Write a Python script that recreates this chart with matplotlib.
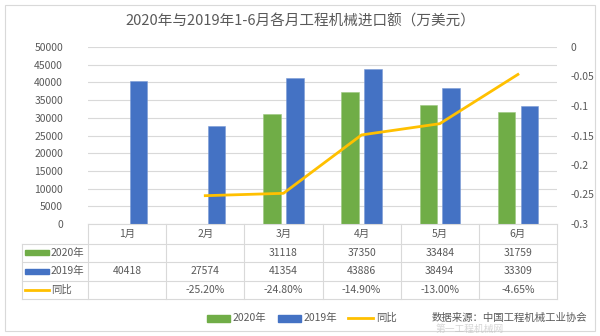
import numpy as np
import matplotlib
matplotlib.use('Agg')
import matplotlib.pyplot as plt

plt.rcParams['font.family'] = ['Noto Sans CJK SC', 'DejaVu Sans']

months = ['1月', '2月', '3月', '4月', '5月', '6月']
v2020 = [None, None, 31118, 37350, 33484, 31759]
v2019 = [40418, 27574, 41354, 43886, 38494, 33309]
yoy = [None, -0.252, -0.248, -0.149, -0.130, -0.0465]
yoy_labels = ['', '-25.20%', '-24.80%', '-14.90%', '-13.00%', '-4.65%']

green = '#70AD47'
blue = '#4472C4'
yellow = '#FFC000'
txt = '#595959'
grid = '#D9D9D9'

fig = plt.figure(figsize=(6, 3.36), dpi=100)
W, H = 600, 336

def fx(px):
    return px / W

def fy(py):
    return 1 - py / H

def fline(xs, ys, **kw):
    fig.lines.append(plt.Line2D([fx(v) for v in xs], [fy(v) for v in ys],
                                transform=fig.transFigure, figure=fig, **kw))

ax = fig.add_axes([fx(88), fy(224), fx(557) - fx(88), fy(47) - fy(224)])
x = np.arange(len(months))
bw = 0.225
off = 0.146
h20 = [v if v is not None else 0 for v in v2020]
ax.bar(x - off, h20, bw, color=green, edgecolor='#9cc77f', linewidth=0.4, zorder=3)
ax.bar(x + off, v2019, bw, color=blue, edgecolor='#7a9ad6', linewidth=0.4, zorder=3)
ax.set_xlim(-0.5, 5.5)
ax.set_ylim(0, 50000)
ax.set_yticks(np.arange(0, 50001, 5000))
ax.yaxis.grid(True, color=grid, linewidth=0.8, zorder=0)
ax.set_axisbelow(True)
ax.set_xticks([])
ax.set_frame_on(False)
ax.tick_params(axis='y', length=0, labelsize=7.5, labelcolor=txt, pad=18)

ax2 = ax.twinx()
lx = [i for i, v in enumerate(yoy) if v is not None]
ly = [v for v in yoy if v is not None]
ax2.plot(lx, ly, color=yellow, linewidth=2, zorder=4)
ax2.set_ylim(-0.3, 0)
ax2.set_yticks([0, -0.05, -0.1, -0.15, -0.2, -0.25, -0.3])
ax2.set_yticklabels(['0', '-0.05', '-0.1', '-0.15', '-0.2', '-0.25', '-0.3'])
ax2.tick_params(axis='y', length=0, labelsize=7.5, labelcolor=txt, pad=10)
ax2.set_frame_on(False)

# data table below the plot (pixel layout)
col_w = (557 - 88) / 6
rows = [224, 243.5, 262, 280.5, 299]
lk = dict(color=grid, linewidth=0.8)
fline([88, 557], [224, 224], **lk)
for r in rows[1:]:
    fline([22, 557], [r, r], **lk)
fline([22, 22], [rows[1], 299], **lk)
for i in range(7):
    cx = 88 + i * col_w
    fline([cx, cx], [224, 299], **lk)

fs = 7.5
mid = [(rows[k] + rows[k + 1]) / 2 for k in range(4)]
for i, m in enumerate(months):
    cx = 88 + (i + 0.5) * col_w
    fig.text(fx(cx), fy(mid[0]), m, ha='center', va='center', fontsize=fs, color=txt)
    if v2020[i] is not None:
        fig.text(fx(cx), fy(mid[1]), str(v2020[i]), ha='center', va='center', fontsize=fs, color=txt)
    fig.text(fx(cx), fy(mid[2]), str(v2019[i]), ha='center', va='center', fontsize=fs, color=txt)
    fig.text(fx(cx), fy(mid[3]), yoy_labels[i], ha='center', va='center', fontsize=fs, color=txt)

fig.patches.append(plt.Rectangle((fx(25), fy(mid[1] + 2.5)), fx(24), 5 / H, color=green,
                                 transform=fig.transFigure, figure=fig))
fig.patches.append(plt.Rectangle((fx(25), fy(mid[2] + 2.5)), fx(24), 5 / H, color=blue,
                                 transform=fig.transFigure, figure=fig))
fline([25, 49], [mid[3], mid[3]], color=yellow, linewidth=2)
fig.text(fx(51), fy(mid[1]), '2020年', va='center', fontsize=fs, color=txt)
fig.text(fx(51), fy(mid[2]), '2019年', va='center', fontsize=fs, color=txt)
fig.text(fx(51), fy(mid[3]), '同比', va='center', fontsize=fs, color=txt)

# legend at the bottom
ly_ = fy(318)
fig.patches.append(plt.Rectangle((fx(207), ly_ - 3.5 / H), fx(23), 7 / H, color=green,
                                 transform=fig.transFigure, figure=fig))
fig.text(fx(233), ly_, '2020年', va='center', fontsize=fs, color=txt)
fig.patches.append(plt.Rectangle((fx(278), ly_ - 3.5 / H), fx(23), 7 / H, color=blue,
                                 transform=fig.transFigure, figure=fig))
fig.text(fx(304), ly_, '2019年', va='center', fontsize=fs, color=txt)
fline([348, 373], [318, 318], color=yellow, linewidth=2)
fig.text(fx(376), ly_, '同比', va='center', fontsize=fs, color=txt)
fig.text(fx(432), ly_, '数据来源：中国工程机械工业协会', va='center', fontsize=fs, color=txt)

# watermark caption
fig.text(fx(470), fy(329), '第一工程机械网', ha='center', va='center', fontsize=7,
         color='#BBBBBB', alpha=0.6)

fig.text(0.5, fy(21), '2020年与2019年1-6月各月工程机械进口额（万美元）', ha='center',
         va='center', fontsize=10.5, color=txt)

# chart border
fig.patches.append(plt.Rectangle((fx(5), fy(331)), fx(590), fy(5) - fy(331), fill=False,
                                 edgecolor=grid, linewidth=0.8,
                                 transform=fig.transFigure, figure=fig))

fig.savefig('out.png', dpi=100)
